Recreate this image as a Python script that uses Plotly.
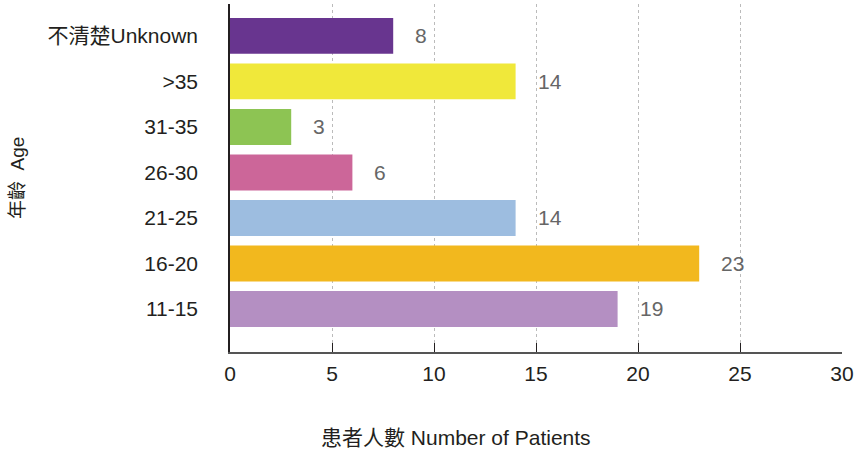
import plotly.graph_objects as go

categories = ["11-15", "16-20", "21-25", "26-30", "31-35", ">35", "不清楚Unknown"]
values = [19, 23, 14, 6, 3, 14, 8]
colors = ["#b48fc2", "#f2b81e", "#9dbde0", "#cc6699", "#8dc453", "#f0e83a", "#68358f"]
x_ticks = [0, 5, 10, 15, 20, 25, 30]

FONT = "Liberation Sans, Arial, Noto Sans CJK TC, sans-serif"

fig = go.Figure()
fig.add_trace(go.Bar(
    y=categories, x=values, orientation="h",
    marker=dict(color=colors, line=dict(width=0)),
    hoverinfo="x+y",
))

for c, v in zip(categories, values):
    fig.add_annotation(x=v, y=c, text=str(v), showarrow=False,
                       xanchor="left", xshift=20,
                       font=dict(family=FONT, size=21, color="#666666"))

fig.update_layout(
    width=861, height=451,
    margin=dict(l=230, r=19, t=4, b=99),
    plot_bgcolor="white", paper_bgcolor="white",
    bargap=0.21,
    showlegend=False,
    font=dict(family=FONT, size=21, color="#231f20"),
)
fig.update_xaxes(
    range=[0, 30], tickvals=x_ticks, ticks="inside", ticklen=9, tickwidth=1.2,
    tickcolor="#231f20", showline=True, linecolor="#555555", linewidth=1.5,
    showgrid=True, gridcolor="#bbbbbb", griddash="dot", gridwidth=1,
    zeroline=False, ticklabelstandoff=2,
    tickfont=dict(family=FONT, size=21, color="#231f20"),
)
fig.update_yaxes(
    range=[-0.945, 6.70], showline=True, linecolor="#231f20", linewidth=1.5,
    showgrid=False, zeroline=False, ticks="", ticklabelstandoff=26,
    tickfont=dict(family=FONT, size=21, color="#231f20"),
)
fig.add_annotation(text="患者人數 Number of Patients", xref="paper", yref="paper",
                   x=(456 - 230) / 612, y=-85 / 348, showarrow=False,
                   xanchor="center", yanchor="middle",
                   font=dict(family=FONT, size=21, color="#231f20"))
fig.add_annotation(text="年齡  Age", xref="paper", yref="paper",
                   x=(17 - 230) / 612, y=(352 - 178) / 348, showarrow=False,
                   textangle=-90, xanchor="center", yanchor="middle",
                   font=dict(family=FONT, size=19, color="#231f20"))

fig.write_html("out.html", config={"displayModeBar": False},
               post_script="document.body.style.margin='0';")
